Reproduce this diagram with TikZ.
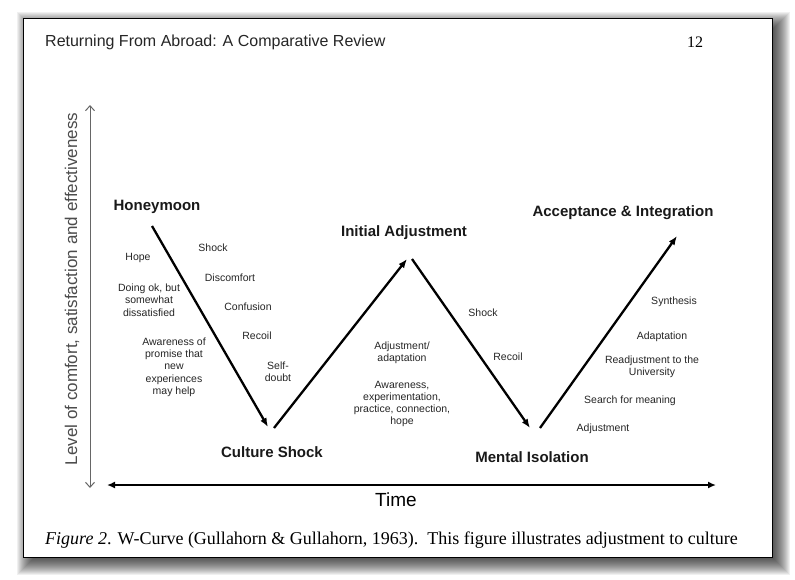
\documentclass[tikz,border=0pt]{standalone}
\usepackage{fontspec}
\setmainfont{Liberation Sans}
\newfontfamily\capserif{Liberation Serif}
\usetikzlibrary{arrows.meta}

\begin{document}
\begin{tikzpicture}[x=1pt,y=-1pt,
  lbl/.style={font=\fontsize{10.5}{12.3}\selectfont, align=center, text=black!85, inner sep=0pt},
  stage/.style={font=\fontsize{15}{17}\selectfont\bfseries, text=black!90, inner sep=0pt},
  wline/.style={line width=2.3pt, -{Latex[length=9pt,width=7pt]}},
]
\useasboundingbox (0,0) rectangle (795,579);
% drop shadow of the page
\foreach \r in {-4,...,12} {
  \fill[black, opacity=0.06] (29-\r,24-\r) rectangle (778+\r,563+\r);
}
% page
\draw[fill=white, line width=0.8pt] (23,18) rectangle (772,557);

% header
\node[font=\fontsize{16}{18}\selectfont, anchor=west, text=black!85, inner sep=0pt] (hdr) at (45,42) {Returning From Abroad: A Comparative Review};
\node[font=\capserif\fontsize{16}{18}\selectfont, inner sep=0pt] (pg) at (695,42) {12};

% vertical axis
\coordinate (ytop) at (90,105);
\coordinate (ybot) at (90,488);
\draw[black!60, line width=1pt, {Straight Barb[length=5pt,width=9pt]}-{Straight Barb[length=5pt,width=9pt]}] (ybot) -- (ytop);
\node[rotate=90, font=\fontsize{17}{19}\selectfont, text=black!70, inner sep=0pt] (ylab) at (72,289) {Level of comfort, satisfaction and effectiveness};

% time axis
\coordinate (tl) at (107,485);
\coordinate (tr) at (716,485);
\draw[line width=2.5pt, {Latex[length=8pt,width=7pt]}-{Latex[length=8pt,width=7pt]}] (tl) -- (tr);
\node[font=\fontsize{19}{21}\selectfont, inner sep=0pt] (time) at (396,500) {Time};

% W curve
\coordinate (a1) at (152,226);
\coordinate (a2) at (268,427);
\coordinate (b1) at (274,428);
\coordinate (b2) at (407,259);
\coordinate (c1) at (412,259);
\coordinate (c2) at (530,428);
\coordinate (d1) at (540,428);
\coordinate (d2) at (677,236);
\draw[wline] (a1) -- (a2);
\draw[wline] (b1) -- (b2);
\draw[wline] (c1) -- (c2);
\draw[wline] (d1) -- (d2);

% stage labels
\node[stage] (honey) at (157,207) {Honeymoon};
\node[stage] (cshock) at (272,452) {Culture Shock};
\node[stage] (initadj) at (404,233) {Initial Adjustment};
\node[stage] (mental) at (532,457) {Mental Isolation};
\node[stage] (accept) at (623,213) {Acceptance \& Integration};

% honeymoon descent labels
\node[lbl] (hope) at (138,258) {Hope};
\node[lbl] (doing) at (149,300) {Doing ok, but\\somewhat\\dissatisfied};
\node[lbl] (aware) at (174,367) {Awareness of\\promise that\\new\\experiences\\may help};
\node[lbl] (shock1) at (213,248) {Shock};
\node[lbl] (discomf) at (230,278) {Discomfort};
\node[lbl] (confus) at (248,307) {Confusion};
\node[lbl] (recoil1) at (257,336) {Recoil};
\node[lbl] (selfd) at (278,372) {Self-\\doubt};

% initial adjustment labels
\node[lbl] (adjad) at (402,353) {Adjustment/\\adaptation};
\node[lbl] (awexp) at (402,404) {Awareness,\\experimentation,\\practice, connection,\\hope};
\node[lbl] (shock2) at (483,313) {Shock};
\node[lbl] (recoil2) at (508,357) {Recoil};

% acceptance labels
\node[lbl] (synth) at (674,302) {Synthesis};
\node[lbl] (adapt) at (662,337) {Adaptation};
\node[lbl] (readj) at (652,367) {Readjustment to the\\University};
\node[lbl] (search) at (630,401) {Search for meaning};
\node[lbl] (adjust) at (603,429) {Adjustment};

% caption
\node[anchor=west, font=\capserif\fontsize{18}{20}\selectfont, inner sep=0pt] (cap) at (45,540) {\textit{Figure 2}. W-Curve (Gullahorn \& Gullahorn, 1963).\ \ This figure illustrates adjustment to culture};
\end{tikzpicture}
\end{document}
